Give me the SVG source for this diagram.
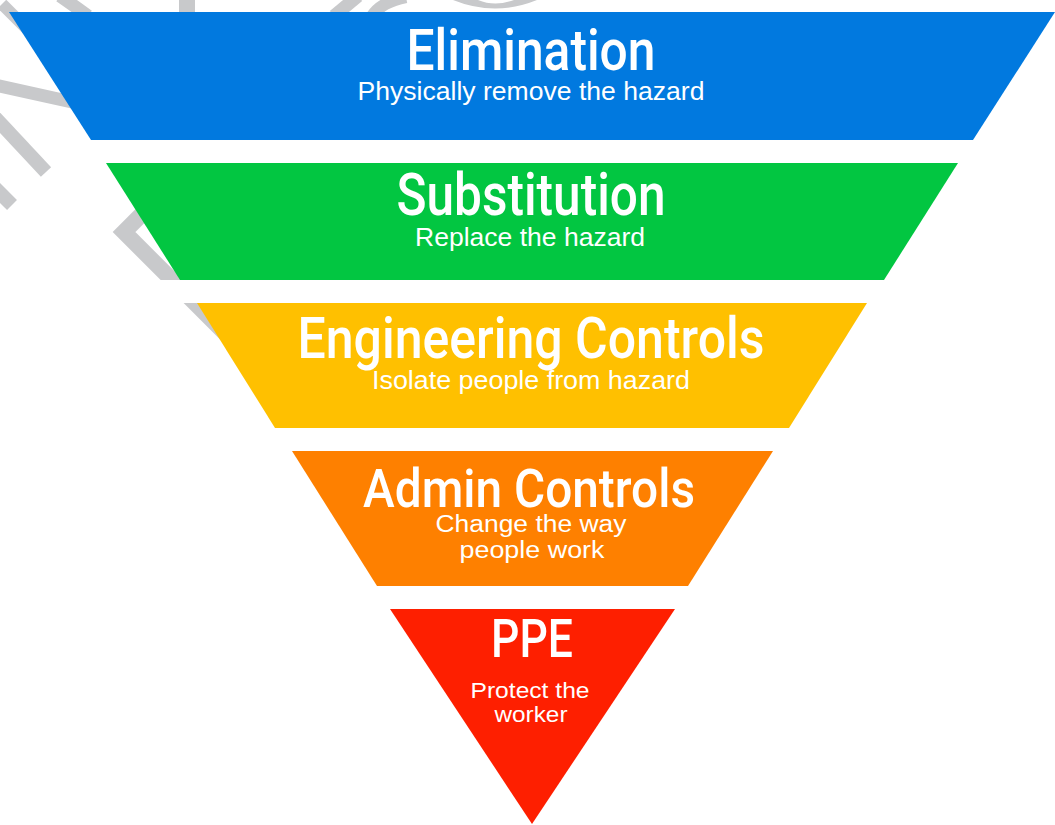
<svg xmlns="http://www.w3.org/2000/svg" width="1055" height="825" viewBox="0 0 1055 825">
  <style>
    .band { stroke: none; }
    .title { font-family: Roboto, "Liberation Sans", sans-serif; font-weight: 500; fill: #ffffff; text-anchor: middle; }
    .sub { font-family: "Liberation Sans", Arial, sans-serif; fill: #ffffff; text-anchor: middle; }
    .mark { fill: none; stroke: #c8c9cb; stroke-linecap: butt; stroke-linejoin: miter; }
  </style>
  <rect x="0" y="0" width="1055" height="825" fill="#ffffff"/>

  <!-- faint background watermark fragments -->
  <g id="watermark">
    <path class="mark" stroke-width="12" d="M2,4 L34,36"/>
    <path class="mark" stroke-width="13" d="M60,-4 Q73,5 88,16"/>
    <path class="mark" stroke-width="16" d="M187,-4 L187,16"/>
    <path class="mark" stroke-width="13" d="M358,-4 L334,16"/>
    <path class="mark" stroke-width="12" d="M372,16 Q381,2 406,-3"/>
    <path d="M453,0 Q495,17 537,0 L514,0 Q495,7 478,0 Z" fill="#c8c9cb"/>
    <path class="mark" stroke-width="13" d="M-5,85 L90,106"/>
    <path class="mark" stroke-width="14" d="M-12,110 L46,172"/>
    <path class="mark" stroke-width="14" d="M-12,181 L12,205"/>
    <path class="mark" stroke-width="16" d="M172,184 L124,232 L240,348"/>
  </g>

  <!-- white separators between the tiers -->
  <g id="gaps" fill="#ffffff">
    <rect x="60" y="140" width="940" height="23"/>
    <rect x="140" y="280" width="790" height="23"/>
    <rect x="240" y="428" width="590" height="23"/>
    <rect x="340" y="586" width="390" height="23"/>
  </g>

  <g id="elimination">
    <polygon class="band" fill="#0179df" points="9,12 1055,12 973,140 91,140"/>
    <text class="title" x="531" y="70" font-size="57" textLength="249" lengthAdjust="spacingAndGlyphs">Elimination</text>
    <text class="sub" x="531" y="100" font-size="25" textLength="347" lengthAdjust="spacingAndGlyphs">Physically remove the hazard</text>
  </g>

  <g id="substitution">
    <polygon class="band" fill="#02c641" points="106,163 958,163 884,280 180,280"/>
    <text class="title" x="531" y="215" font-size="59" textLength="269" lengthAdjust="spacingAndGlyphs">Substitution</text>
    <text class="sub" x="530" y="246" font-size="25" textLength="230" lengthAdjust="spacingAndGlyphs">Replace the hazard</text>
  </g>

  <g id="engineering">
    <polygon class="band" fill="#ffc000" points="197,303 867,303 789,428 275,428"/>
    <text class="title" x="531" y="358" font-size="57" textLength="467" lengthAdjust="spacingAndGlyphs">Engineering Controls</text>
    <text class="sub" x="531" y="389" font-size="25" textLength="318" lengthAdjust="spacingAndGlyphs">Isolate people from hazard</text>
  </g>

  <g id="admin">
    <polygon class="band" fill="#fe8000" points="292,451 773,451 688,586 377,586"/>
    <text class="title" x="529" y="507" font-size="54" textLength="332" lengthAdjust="spacingAndGlyphs">Admin Controls</text>
    <text class="sub" x="531" y="532" font-size="23" textLength="191" lengthAdjust="spacingAndGlyphs">Change the way</text>
    <text class="sub" x="532" y="558" font-size="23" textLength="145" lengthAdjust="spacingAndGlyphs">people work</text>
  </g>

  <g id="ppe">
    <polygon class="band" fill="#fe1f00" points="390,609 675,609 532,824"/>
    <text class="title" x="532" y="657" font-size="54" textLength="82" lengthAdjust="spacingAndGlyphs">PPE</text>
    <text class="sub" x="530" y="698" font-size="22" textLength="119" lengthAdjust="spacingAndGlyphs">Protect the</text>
    <text class="sub" x="531" y="722" font-size="22" textLength="73" lengthAdjust="spacingAndGlyphs">worker</text>
  </g>

  <g id="connectors"></g>
</svg>
